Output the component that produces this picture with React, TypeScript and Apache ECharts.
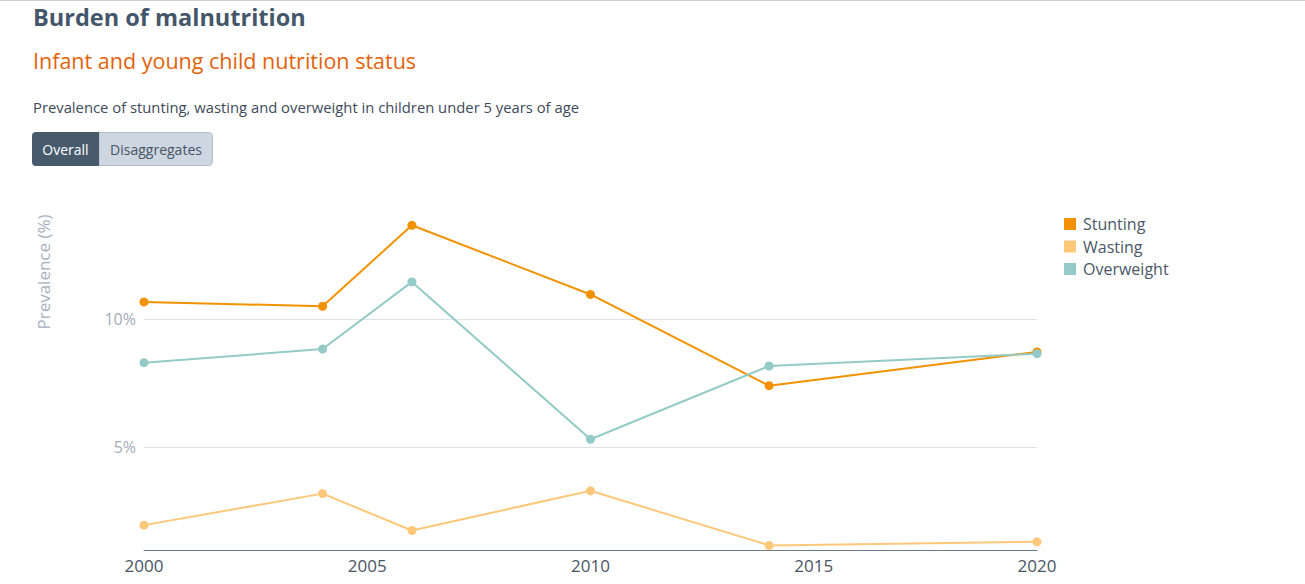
import React, { useEffect, useRef } from "react";
import * as echarts from "echarts";

const years = [2000, 2004, 2006, 2010, 2014, 2020];
const stunting = [10.68, 10.51, 13.67, 10.97, 7.41, 8.73];
const wasting = [1.97, 3.2, 1.76, 3.31, 1.18, 1.32];
const overweight = [8.31, 8.84, 11.46, 5.32, 8.18, 8.66];
const yTicks = [5, 10];
const seriesNames = ["Stunting", "Wasting", "Overweight"];
const colors = ["#f39200", "#fec87a", "#94cac7"];

const FONT = "'Open Sans', sans-serif";

export default function App() {
  const ref = useRef<HTMLDivElement>(null);
  useEffect(() => {
    if (!ref.current) return;
    const chart = echarts.init(ref.current, null, { renderer: "svg" });
    const toPairs = (vals: number[]) => years.map((y, i) => [y, vals[i]]);
    const allSeries = [stunting, wasting, overweight];
    chart.setOption({
      animation: false,
      textStyle: { fontFamily: FONT },
      grid: { left: 144, right: 268, top: 204, bottom: 34 },
      legend: {
        orient: "vertical",
        left: 1059,
        top: 211,
        icon: "rect",
        itemWidth: 12,
        itemHeight: 12,
        itemGap: 6.5,
        data: seriesNames,
        textStyle: { color: "#4a5868", fontSize: 16, fontFamily: FONT, padding: [0, 0, 0, 2] },
      },
      xAxis: {
        type: "value",
        min: 2000,
        max: 2020,
        interval: 5,
        axisLine: { show: true, lineStyle: { color: "#6e7987", width: 1 } },
        axisTick: { show: false },
        splitLine: { show: false },
        axisLabel: {
          color: "#4a5565",
          fontSize: 17,
          margin: 7,
          fontFamily: FONT,
          formatter: (v: number) => String(v),
        },
      },
      yAxis: {
        type: "value",
        min: 1,
        max: 14.5,
        axisLine: { show: false },
        axisTick: { show: false, customValues: yTicks },
        splitLine: {
          show: true,
          lineStyle: { color: "#dde2ea", width: 1 },
        },
        axisLabel: {
          color: "#a3acb9",
          fontSize: 16,
          margin: 8,
          fontFamily: FONT,
          customValues: yTicks,
          formatter: (v: number) => v + "%",
        },
      },
      series: seriesNames.map((name, i) => ({
        name,
        type: "line",
        data: toPairs(allSeries[i]),
        symbol: "circle",
        symbolSize: 9,
        showSymbol: true,
        lineStyle: { width: 2, color: colors[i] },
        itemStyle: { color: colors[i] },
        z: 2 + i,
      })),
      graphic: [
        { type: "line", shape: { x1: 0, y1: 0.5, x2: 1305, y2: 0.5 }, style: { stroke: "#cfcfcf", lineWidth: 1 } },
        {
          type: "text",
          left: 33,
          top: 5,
          style: { text: "Burden of malnutrition", fill: "#44566a", font: `bold 23.5px ${FONT}` },
        },
        {
          type: "text",
          left: 33,
          top: 49,
          style: { text: "Infant and young child nutrition status", fill: "#e3620c", font: `21.5px ${FONT}` },
        },
        {
          type: "text",
          left: 33,
          top: 99,
          style: { text: "Prevalence of stunting, wasting and overweight in children under 5 years of age", fill: "#3d4a5a", font: `14.8px ${FONT}` },
        },
        {
          type: "rect",
          shape: { x: 99, y: 132.5, width: 113.5, height: 33, r: [0, 4, 4, 0] },
          style: { fill: "#cdd6e1", stroke: "#b3bdca", lineWidth: 1 },
        },
        {
          type: "rect",
          shape: { x: 32, y: 132, width: 67, height: 34, r: [4, 0, 0, 4] },
          style: { fill: "#485b6c" },
        },
        {
          type: "text",
          x: 65.5,
          y: 149,
          style: { text: "Overall", fill: "#ffffff", font: `14px ${FONT}`, align: "center", verticalAlign: "middle" },
        },
        {
          type: "text",
          x: 156,
          y: 149,
          style: { text: "Disaggregates", fill: "#475566", font: `14px ${FONT}`, align: "center", verticalAlign: "middle" },
        },
        {
          type: "text",
          x: 43,
          y: 272,
          rotation: Math.PI / 2,
          style: { text: "Prevalence (%)", fill: "#a7b0bd", font: `17px ${FONT}`, align: "center", verticalAlign: "middle" },
        },
      ],
    });
    return () => chart.dispose();
  }, []);
  return (
    <div
      ref={ref}
      style={{ position: "fixed", left: 0, top: 0, width: 1305, height: 584, background: "#ffffff" }}
    />
  );
}
